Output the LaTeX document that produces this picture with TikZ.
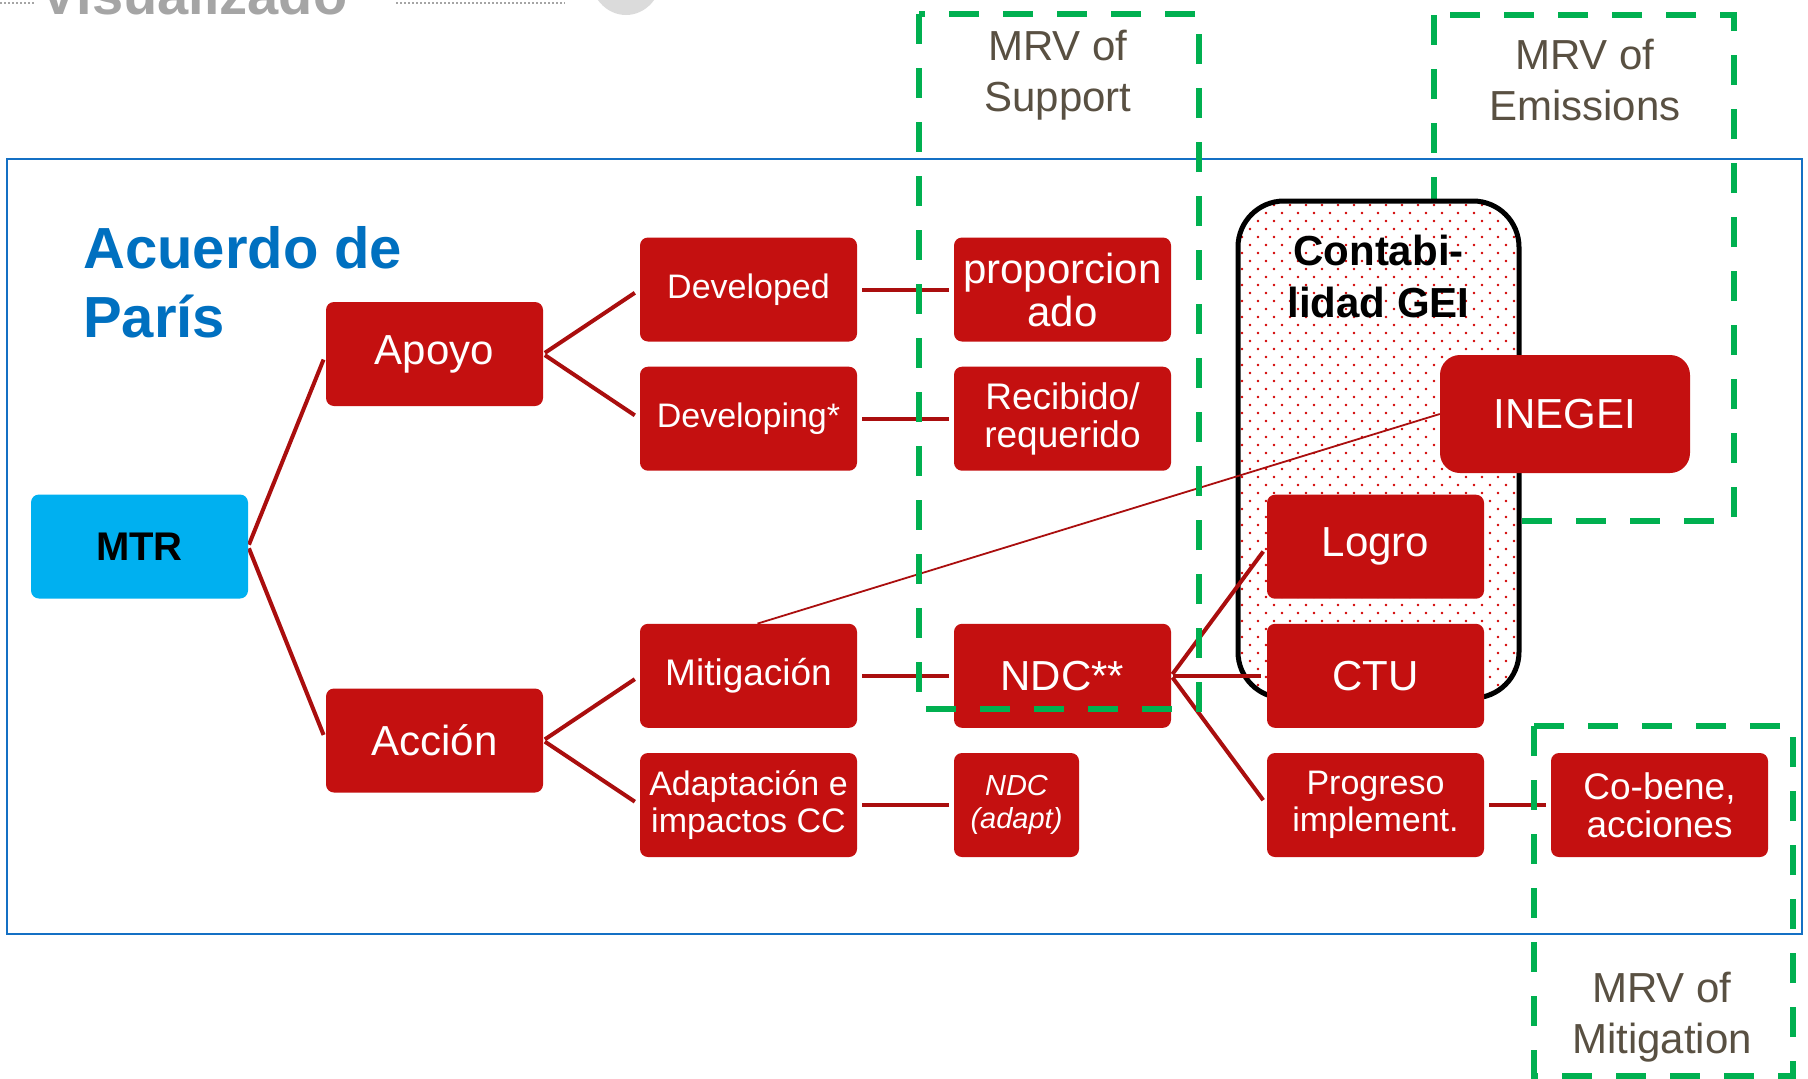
\documentclass[tikz,border=0pt]{standalone}
\usepackage{fontspec}
\setmainfont{Liberation Sans}
\newcommand\myfs[2]{\fontsize{#1}{#2}\selectfont}
\definecolor{boxred}{RGB}{196,16,16}
\definecolor{linered}{RGB}{170,14,14}
\definecolor{mtrcyan}{RGB}{0,176,240}
\definecolor{framblue}{RGB}{20,112,196}
\definecolor{acblue}{RGB}{0,112,192}
\definecolor{mrvgreen}{RGB}{0,176,80}
\definecolor{mrvtxt}{RGB}{89,80,66}
\definecolor{vgray}{RGB}{165,165,165}
\definecolor{dotred}{RGB}{210,0,0}
\pgfdeclarelayer{back}
\pgfsetlayers{back,main}
\begin{document}
\begin{tikzpicture}[x=1pt,y=-1pt,
  rbox/.style={fill=boxred, rounded corners=8pt, minimum width=217pt, minimum height=104pt,
    text=white, inner sep=0pt, align=center, font=\myfs{42}{46}},
  mtrbox/.style={rbox, fill=mtrcyan, text=black, font=\bfseries\myfs{40}{44}},
  conn/.style={draw=linered, line width=4pt, shorten <=2pt, shorten >=6pt},
  hconn/.style={draw=linered, line width=4pt, shorten <=5pt, shorten >=5pt},
  thinconn/.style={draw=linered, line width=1.8pt},
  mrv/.style={draw=mrvgreen, line width=6pt, dash pattern=on 30pt off 24pt},
  mrvtext/.style={text=mrvtxt, align=center, inner sep=0pt, font=\myfs{42}{51}}
]
\useasboundingbox (0,0) rectangle (1808,1079);
\begin{pgfonlayer}{back}
\fill[white] (0,0) rectangle (1808,1079);
% top cut-off fragments
\draw[vgray, line width=2pt, dotted] (0,3) -- (34,3);
\draw[vgray, line width=2pt, dotted] (396,3) -- (565,3);
\fill[black!14] (626,-25) ellipse [x radius=36pt, y radius=40pt];
% frame
\draw[framblue, line width=2pt] (7,159) rectangle (1802,934);
% MRV of Emissions (behind contabilidad box)
\draw[mrv] (1434,15) rectangle (1734,521);
% Contabilidad GEI box
\fill[white, rounded corners=46pt] (1238,201) rectangle (1519,698);
\begin{scope}
\clip[rounded corners=46pt] (1238,201) rectangle (1519,698);
\foreach \i in {0,...,62}{
  \foreach \j in {0,...,18}{
    \fill[dotred] ({1242+\j*16+8*mod(\i,2)},{205+\i*8}) circle (1.3pt);
  }
}
\end{scope}
\draw[black, line width=5pt, rounded corners=46pt] (1238,201) rectangle (1519,698);
\end{pgfonlayer}

\node[anchor=base west, inner sep=0pt, text=vgray, font=\bfseries\myfs{56}{60}] (vis) at (40,14) {Visualizado};

\node[anchor=north west, inner sep=0pt, align=left, text=acblue, font=\bfseries\myfs{58}{69}] (acuerdo) at (83,226) {Acuerdo de\\París};

\node[mtrbox] (mtr) at (139.5,546.5) {MTR};
\node[rbox] (apoyo) at (434.5,354) {Apoyo};
\node[rbox] (accion) at (434.5,740.5) {Acción};
\node[rbox, font=\myfs{34}{40}] (developed) at (748.5,289.5) {Developed};
\node[rbox, font=\myfs{34}{40}] (developing) at (748.5,418.7) {Developing*};
\node[rbox, font=\myfs{37}{40}] (mitig) at (748.5,675.8) {Mitigación};
\node[rbox, font=\myfs{34}{37}] (adapt) at (748.5,805) {Adaptación e\\impactos CC};
\node[rbox, font=\myfs{42}{43}] (proporc) at (1062.5,289.5) {proporcion\\ado};
\node[rbox, font=\myfs{37}{38}] (recibido) at (1062.5,418.7) {Recibido/\\requerido};
\node[rbox] (ndc) at (1062.5,675.8) {NDC**};
\node[rbox, minimum width=125pt, font=\itshape\myfs{29}{33}] (ndcad) at (1016.5,805) {NDC\\(adapt)};
\node[rbox] (logro) at (1375.5,546.7) {Logro};
\node[rbox] (ctu) at (1375.5,675.8) {CTU};
\node[rbox, font=\myfs{34}{37}] (progreso) at (1375.5,805) {Progreso\\implement.};
\node[rbox, font=\myfs{37}{38}] (cobene) at (1659.5,805) {Co-bene,\\acciones};
\node[rbox, minimum width=250pt, minimum height=118pt, rounded corners=20pt] (inegei) at (1565,414) {INEGEI};

\node[align=center, inner sep=0pt, font=\bfseries\myfs{42}{52}] (contab) at (1378.5,276) {Contabi-\\lidad GEI};

\node[mrvtext] (mrvsup) at (1058,75) {MRV of\\Support};
\node[mrvtext] (mrvemi) at (1585,80) {MRV of\\Emissions};
\node[mrvtext] (mrvmit) at (1662,1017) {MRV of\\Mitigation};

\begin{pgfonlayer}{back}
\draw[conn] (mtr.east) -- (apoyo.west);
\draw[conn] (mtr.east) -- (accion.west);
\draw[conn] (apoyo.east) -- (developed.west);
\draw[conn] (apoyo.east) -- (developing.west);
\draw[conn] (accion.east) -- (mitig.west);
\draw[conn] (accion.east) -- (adapt.west);
\draw[hconn] (developed.east) -- (proporc.west);
\draw[hconn] (developing.east) -- (recibido.west);
\draw[hconn] (mitig.east) -- (ndc.west);
\draw[hconn] (adapt.east) -- (ndcad.west);
\draw[conn] (ndc.east) -- (logro.west);
\draw[conn] (ndc.east) -- (ctu.west);
\draw[conn] (ndc.east) -- (progreso.west);
\draw[hconn] (progreso.east) -- (cobene.west);
\draw[thinconn] ([xshift=9pt]mitig.north) -- (inegei.west);
\end{pgfonlayer}

\draw[mrv] (919,14) rectangle (1199,709);
\draw[mrv] (1534,726) rectangle (1793,1076);
\end{tikzpicture}
\end{document}
